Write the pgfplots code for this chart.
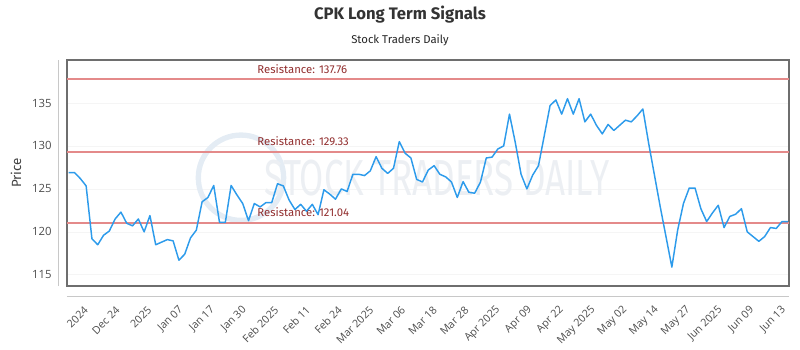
\documentclass[border=0pt]{standalone}
\usepackage{pgfplots}
\pgfplotsset{compat=1.18}
\usepackage{fontspec}
\setmainfont{Fira Sans}
\newfontfamily\tickfont{Open Sans}
\definecolor{lineblue}{RGB}{45,155,235}
\definecolor{resred}{RGB}{228,138,138}
\definecolor{restext}{RGB}{145,45,45}
\definecolor{frame}{RGB}{110,110,110}
\definecolor{outer}{RGB}{200,200,200}
\definecolor{wm}{RGB}{236,239,243}
\definecolor{wmc}{RGB}{228,236,244}
\begin{document}
\begin{tikzpicture}
\path[use as bounding box] (-50.25pt,-48pt) rectangle (549.75pt,214.5pt);
\node[font=\bfseries\fontsize{12.5}{14}\selectfont, text=black!80] at (249.75pt,203.25pt) {CPK Long Term Signals};
\node[font=\fontsize{8.5}{10}\selectfont, text=black!85] at (249.75pt,184.5pt) {Stock Traders Daily};
\begin{axis}[
  at={(0,0)}, anchor=south west,
  scale only axis, width=541.5pt, height=169.5pt,
  xmin=-0.3, xmax=124.2, ymin=113.7, ymax=140.0,
  axis line style={frame, line width=0.8pt},
  ytick={115,120,125,130,135},
  xtick={3.17,8.64,14.11,19.58,25.05,30.52,35.99,41.46,46.93,52.40,57.87,63.34,68.81,74.28,79.75,85.22,90.69,96.16,101.63,107.10,112.57,118.04,123.51},
  xticklabels={2024,Dec 24,2025,Jan 07,Jan 17,Jan 30,Feb 2025,Feb 11,Feb 24,Mar 2025,Mar 06,Mar 18,Mar 28,Apr 2025,Apr 09,Apr 22,May 2025,May 02,May 14,May 27,Jun 2025,Jun 09,Jun 13},
  major tick length=0pt,
  ymajorgrids, grid style={gray!8, line width=0.5pt},
  yticklabel style={font=\tickfont\fontsize{8.5}{10}\selectfont, text=black!70, xshift=-8pt},
  xticklabel style={font=\tickfont\fontsize{8}{9}\selectfont, text=black!70, yshift=-16pt, rotate=45, anchor=east, inner sep=1pt},
  /pgf/number format/assume math mode=true,
  ylabel={Price},
  ylabel style={font=\fontsize{10}{12}\selectfont, text=black!75, at={(axis description cs:-0.0706,0.5)}, anchor=center},
  clip=false,
]
\draw[outer, line width=0.6pt] (axis description cs:-0.0125,0) -- (axis description cs:-0.0125,1);
\draw[outer, line width=0.6pt] (axis description cs:0,-0.0442) -- (axis description cs:1,-0.0442);
\draw[wmc, line width=4pt] (axis cs:29.7,126.3) circle[radius=32pt];
\node[font=\fontsize{38}{38}\selectfont, text=wm, xscale=0.69] at (axis cs:63.5,126.3) {STOCK TRADERS DAILY};
\addplot[resred, line width=1.5pt, forget plot] coordinates {(-0.3,137.76) (124.2,137.76)};
\addplot[resred, line width=1.5pt, forget plot] coordinates {(-0.3,129.33) (124.2,129.33)};
\addplot[resred, line width=1.5pt, forget plot] coordinates {(-0.3,121.04) (124.2,121.04)};
\node[anchor=west, font=\fontsize{8.5}{10}\selectfont, text=restext, inner sep=0pt] at (axis cs:32.5,138.95) {Resistance: 137.76};
\node[anchor=west, font=\fontsize{8.5}{10}\selectfont, text=restext, inner sep=0pt] at (axis cs:32.5,130.55) {Resistance: 129.33};
\node[anchor=west, font=\fontsize{8.5}{10}\selectfont, text=restext, inner sep=0pt] at (axis cs:32.5,122.25) {Resistance: 121.04};
\addplot[lineblue, line width=1.1pt, line join=round, mark=none] table {
x y
0 126.9
1 126.9
2 126.2
3 125.35
4 119.2
5 118.5
6 119.6
7 120.1
8 121.5
9 122.3
10 121.0
11 120.7
12 121.5
13 120.0
14 121.9
15 118.5
16 118.8
17 119.1
18 118.95
19 116.7
20 117.4
21 119.3
22 120.2
23 123.5
24 124.0
25 125.4
26 121.1
27 121.1
28 125.4
29 124.3
30 123.3
31 121.3
32 123.3
33 122.9
34 123.4
35 123.4
36 125.6
37 125.35
38 123.7
39 122.6
40 123.2
41 122.4
42 123.2
43 122.0
44 124.9
45 124.4
46 123.8
47 125.0
48 124.7
49 126.7
50 126.7
51 126.55
52 127.1
53 128.75
54 127.4
55 126.8
56 127.4
57 130.5
58 129.15
59 128.6
60 126.1
61 125.8
62 127.2
63 127.7
64 126.7
65 126.4
66 125.8
67 124.0
68 125.85
69 124.6
70 124.5
71 125.8
72 128.6
73 128.7
74 129.65
75 130.0
76 133.7
77 130.4
78 126.7
79 125.0
80 126.6
81 127.7
82 131.2
83 134.7
84 135.35
85 133.7
86 135.5
87 133.7
88 135.5
89 132.8
90 133.7
91 132.4
92 131.4
93 132.5
94 131.8
95 132.4
96 133.0
97 132.8
98 133.5
99 134.3
100 130.3
101 126.6
102 122.9
103 119.4
104 115.9
105 120.2
106 123.3
107 125.1
108 125.1
109 122.7
110 121.2
111 122.2
112 123.1
113 120.5
114 121.8
115 122.05
116 122.7
117 120.0
118 119.45
119 118.9
120 119.45
121 120.5
122 120.4
123 121.2
124 121.2
};
\end{axis}
\end{tikzpicture}
\end{document}
